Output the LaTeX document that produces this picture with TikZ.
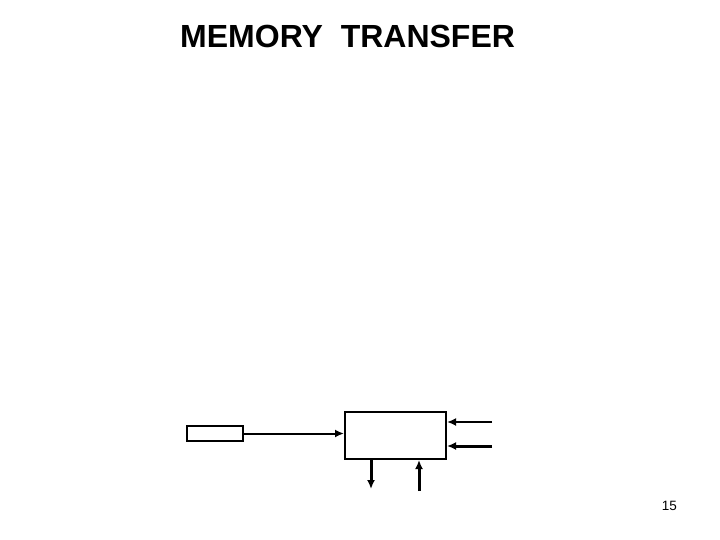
\documentclass[tikz,border=0pt]{standalone}
\usepackage{fontspec}
\setmainfont{Liberation Sans}
\usetikzlibrary{arrows.meta}
\begin{document}
\begin{tikzpicture}[x=1pt,y=-1pt,
  box/.style={draw,line width=2pt,inner sep=0pt},
  conn/.style={line width=2pt,-{Latex[length=9pt,width=8pt]}},
  thick conn/.style={line width=3pt,-{Latex[length=9pt,width=8pt]}}]
\useasboundingbox (0,0) rectangle (720,540);
\node[font=\bfseries\fontsize{32}{38}\selectfont,anchor=base west,inner sep=0pt] (title) at (180,48) {MEMORY\ \ TRANSFER};
\node[box,minimum width=56pt,minimum height=15pt] (reg) at (215,433.5) {};
\node[box,minimum width=101pt,minimum height=47pt] (mem) at (395.5,435.5) {};
\coordinate (r1) at (492,422);
\coordinate (r2) at (492,446);
\coordinate (d1) at (371,489);
\coordinate (u1) at (419,491);
\draw[conn] (reg.east) -- (reg.east -| mem.west);
\draw[conn] (r1) -- (r1 -| mem.east);
\draw[thick conn] (r2) -- (r2 -| mem.east);
\draw[thick conn] (d1 |- mem.south) -- (d1);
\draw[thick conn] (u1) -- (u1 |- mem.south);
\node[font=\fontsize{13.5}{16}\selectfont,anchor=base east,inner sep=0pt] (page) at (677,510) {15};
\end{tikzpicture}
\end{document}
